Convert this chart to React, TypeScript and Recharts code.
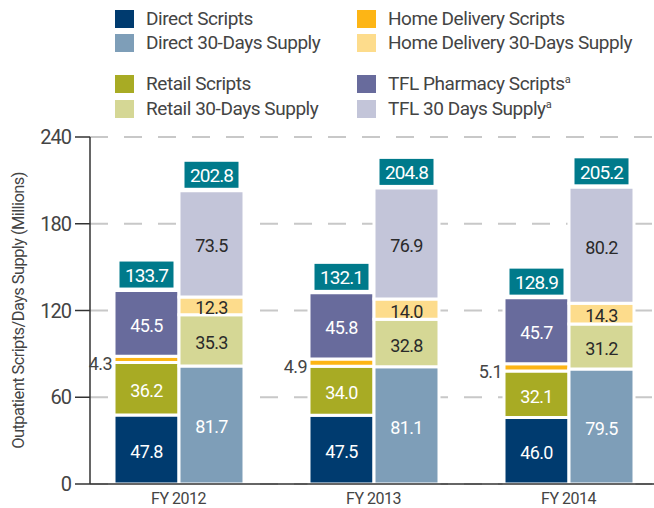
import { BarChart, Bar, XAxis, YAxis, CartesianGrid, Legend, LabelList } from 'recharts';

const years = ['FY 2012', 'FY 2013', 'FY 2014'];

const directScripts = [47.8, 47.5, 46.0];
const retailScripts = [36.2, 34.0, 32.1];
const homeScripts = [4.3, 4.9, 5.1];
const tflScripts = [45.5, 45.8, 45.7];
const scriptTotals = [133.7, 132.1, 128.9];

const directSupply = [81.7, 81.1, 79.5];
const retailSupply = [35.3, 32.8, 31.2];
const homeSupply = [12.3, 14.0, 14.3];
const tflSupply = [73.5, 76.9, 80.2];
const supplyTotals = [202.8, 204.8, 205.2];

const yTicks = [0, 60, 120, 180, 240];
const yMinorTicks = [0, 12, 24, 36, 48, 60, 72, 84, 96, 108, 120, 132, 144, 156, 168, 180, 192, 204, 216, 228, 240];
const xMinorTicks = [0, 1, 2, 3, 4, 5, 6, 7, 8, 9];

const FONT = '"Roboto", "Liberation Sans", sans-serif';
const TEAL = '#007a8b';

type Series = {
  key: string;
  name: string;
  color: string;
  stack: string;
  values: number[];
  textColor: string;
  totals?: number[];
  outside?: boolean;
};

const series: Series[] = [
  { key: 'directScripts', name: 'Direct Scripts', color: '#003b6f', stack: 'scripts', values: directScripts, textColor: '#fff' },
  { key: 'retailScripts', name: 'Retail Scripts', color: '#a8ab24', stack: 'scripts', values: retailScripts, textColor: '#fff' },
  { key: 'homeScripts', name: 'Home Delivery Scripts', color: '#fdb515', stack: 'scripts', values: homeScripts, textColor: '#444', outside: true },
  { key: 'tflScripts', name: 'TFL Pharmacy Scripts', color: '#686b9c', stack: 'scripts', values: tflScripts, textColor: '#fff', totals: scriptTotals },
  { key: 'directSupply', name: 'Direct 30-Days Supply', color: '#7e9eb8', stack: 'supply', values: directSupply, textColor: '#fff' },
  { key: 'retailSupply', name: 'Retail 30-Days Supply', color: '#d5d795', stack: 'supply', values: retailSupply, textColor: '#2a2a2a' },
  { key: 'homeSupply', name: 'Home Delivery 30-Days Supply', color: '#fddc8c', stack: 'supply', values: homeSupply, textColor: '#2a2a2a' },
  { key: 'tflSupply', name: 'TFL 30 Days Supply', color: '#c3c5d9', stack: 'supply', values: tflSupply, textColor: '#2a2a2a', totals: supplyTotals },
];

// legend grid, row by row (left column, right column)
const legendRows = [
  ['directScripts', 'homeScripts'],
  ['directSupply', 'homeSupply'],
  ['retailScripts', 'tflScripts'],
  ['retailSupply', 'tflSupply'],
];
const superscripted = ['tflScripts', 'tflSupply'];

const data = years.map((year, i) => {
  const row: Record<string, string | number> = { year };
  series.forEach((s) => {
    row[s.key] = s.values[i];
  });
  return row;
});

const box = (p: any) => {
  const vb = p.viewBox ?? p;
  return { x: Number(vb.x), y: Number(vb.y), width: Number(vb.width), height: Number(vb.height) };
};

const segmentLabel = (s: Series) => (p: any) => {
  const { x, y, width, height } = box(p);
  const v = Number(p.value).toFixed(1);
  if (s.outside) {
    return (
      <text x={x - 2} y={y + height / 2 + 4} textAnchor="end" dominantBaseline="central" fill={s.textColor} fontSize={18} letterSpacing={-0.6} fontFamily={FONT}>
        {v}
      </text>
    );
  }
  return (
    <text x={x + width / 2} y={y + height / 2 + 2} textAnchor="middle" dominantBaseline="central" fill={s.textColor} fontSize={18} letterSpacing={-0.6} fontFamily={FONT}>
      {v}
    </text>
  );
};

const totalLabel = (totals: number[]) => (p: any) => {
  const { x, y, width, height } = box(p);
  const cx = x + width / 2;
  const top = Math.min(y, y + height);
  return (
    <g>
      <rect x={cx - 27} y={top - 29} width={54} height={26} fill={TEAL} />
      <text x={cx} y={top - 15} textAnchor="middle" dominantBaseline="central" fill="#fff" fontSize={19} letterSpacing={-0.9} fontFamily={FONT}>
        {totals[p.index].toFixed(1)}
      </text>
    </g>
  );
};

const rowTops = [10, 34, 75, 100];
const colLefts = [115, 357];

const renderLegend = () => (
  <div style={{ position: 'relative', width: 654, height: 137, fontFamily: FONT }}>
    {legendRows.map((row, r) =>
      row.map((key, c) => {
        const s = series.find((e) => e.key === key)!;
        return (
          <div key={key} style={{ position: 'absolute', left: colLefts[c], top: rowTops[r], height: 18, display: 'flex', alignItems: 'center' }}>
            <span style={{ display: 'inline-block', width: 19, height: 18, background: s.color }} />
            <span style={{ marginLeft: 12, fontSize: 19, color: '#444', whiteSpace: 'nowrap', lineHeight: '18px', letterSpacing: -0.45 }}>
              {s.name}
              {superscripted.includes(key) && <sup style={{ fontSize: 11, lineHeight: 0 }}>a</sup>}
            </span>
          </div>
        );
      })
    )}
  </div>
);

const yLabel = (p: any) => {
  const vb = p.viewBox;
  const cy = vb.y + vb.height / 2;
  return (
    <text x={18} y={cy} transform={`rotate(-90 18 ${cy})`} textAnchor="middle" dominantBaseline="central" fill="#444" fontSize={16.5} letterSpacing={-0.6} fontFamily={FONT}>
      Outpatient Scripts/Days Supply (Millions)
    </text>
  );
};

export default function App() {
  return (
    <div style={{ position: 'absolute', left: 0, top: 0, width: 654, height: 508, overflow: 'hidden', background: '#fff', fontFamily: FONT }}>
      <BarChart width={680} height={508} data={data} margin={{ top: 0, right: 5, bottom: 0, left: 0 }} barGap={0}>
        <CartesianGrid vertical={false} stroke="#c8c8c8" strokeWidth={2} strokeDasharray="18 16" />
        <XAxis
          xAxisId="minor"
          type="number"
          domain={[0, 9]}
          ticks={xMinorTicks}
          height={0}
          axisLine={false}
          tickSize={4}
          tickLine={{ stroke: '#666' }}
          tickFormatter={() => ''}
          interval={0}
        />
        <XAxis
          dataKey="year"
          height={24}
          padding={{ left: -9, right: 9 }}
          axisLine={{ stroke: '#333', strokeWidth: 1.5 }}
          tickLine={false}
          tickSize={0}
          tickMargin={9}
          tick={{ fill: '#444', fontSize: 16, letterSpacing: -0.5, fontFamily: FONT }}
          interval={0}
        />
        <YAxis
          width={90}
          type="number"
          domain={[0, 240]}
          ticks={yTicks}
          interval={0}
          tickSize={15}
          tickMargin={4}
          axisLine={{ stroke: '#333', strokeWidth: 1.5 }}
          tickLine={{ stroke: '#333', strokeWidth: 1.5 }}
          tick={{ fill: '#444', fontSize: 20, letterSpacing: -1, fontFamily: FONT }}
          label={{ content: yLabel }}
        />
        <YAxis
          yAxisId="minor"
          mirror
          type="number"
          domain={[0, 240]}
          ticks={yMinorTicks}
          interval={0}
          tickSize={3}
          axisLine={false}
          tickLine={{ stroke: '#666' }}
          tickFormatter={() => ''}
        />
        <Legend verticalAlign="top" align="left" content={renderLegend} wrapperStyle={{ top: 0, left: 0, width: 654, height: 137 }} />
        {series.map((s) => (
          <Bar key={s.key} dataKey={s.key} name={s.name} stackId={s.stack} fill={s.color} stroke="#fff" strokeWidth={3} barSize={65} isAnimationActive={false}>
            <LabelList dataKey={s.key} content={segmentLabel(s)} />
            {s.totals && <LabelList dataKey={s.key} content={totalLabel(s.totals)} />}
          </Bar>
        ))}
      </BarChart>
    </div>
  );
}
